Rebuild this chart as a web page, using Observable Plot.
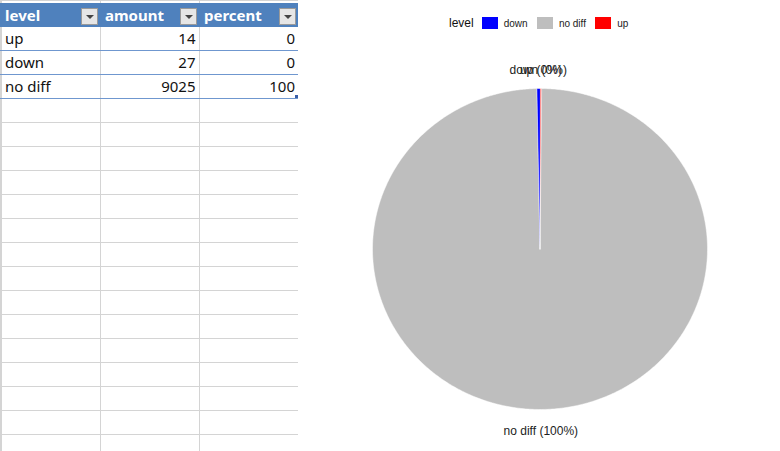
<!DOCTYPE html>
<html>
<head>
<meta charset="utf-8">
<script src="https://cdn.jsdelivr.net/npm/d3@7"></script>
<script src="https://cdn.jsdelivr.net/npm/@observablehq/plot@0.6"></script>
<style>
  html, body { margin: 0; padding: 0; background: #fff; }
  body { width: 780px; height: 451px; overflow: hidden; position: relative; font-family: "Noto Sans", sans-serif; }
  .abs { position: absolute; }
  .gh { position: absolute; height: 1px; background: #d4d4d4; }
  .gv { position: absolute; width: 1px; background: #d4d4d4; }
  .hdr { position: absolute; background: #4F81BD; }
  .htxt { position: absolute; color: #fff; font-weight: bold; font-size: 15px; line-height: 24px; white-space: nowrap; }
  .btn { position: absolute; width: 15px; height: 15px; background: #e6e6e6; border: 1px solid #9a9a9a; box-sizing: content-box; }
  .btn::after { content: ""; position: absolute; left: 4px; top: 6px; border-left: 4px solid transparent; border-right: 4px solid transparent; border-top: 4px solid #444; }
  .cell { position: absolute; font-size: 15px; color: #111; line-height: 24px; white-space: nowrap; }
  .bl { position: absolute; height: 1px; background: #6f97cf; }
  #legendRow { position: absolute; left: 449px; top: 17px; height: 12px; display: flex; align-items: center; font-family: "Liberation Sans", Arial, sans-serif; color: #111; }
  #legendRow .ttl { font-size: 12px; margin-right: 8px; }
  .lg-swatches { margin-bottom: 0 !important; font-size: 10px !important; font-family: "Liberation Sans", Arial, sans-serif !important; color: #222 !important; }
  .lg-swatches-wrap { min-height: 0 !important; flex-wrap: nowrap !important; }
  .lg-swatch { margin-right: 9.3px !important; }
  .lg-swatch > svg { margin-right: 6px !important; }
  #chart { position: absolute; left: 300px; top: 40px; }
</style>
</head>
<body>
<div id="sheet"></div>
<div id="legendRow"><span class="ttl">level</span></div>
<div id="chart"></div>
<script>
// ---- data ----
const levels = ["up", "down", "no diff"];
const amounts = [14, 27, 9025];
const percents = [0, 0, 100];
const headers = ["level", "amount", "percent"];
const colorDomain = ["down", "no diff", "up"];
const colorRange = ["#0000FF", "#BEBEBE", "#FF0000"];
const pieOrder = ["up", "no diff", "down"]; // clockwise from 12 o'clock

// ---- spreadsheet (left) ----
const sheet = document.getElementById("sheet");
const colX = [0, 100, 199, 298];
function add(cls, style, text) {
  const d = document.createElement("div");
  d.className = cls;
  Object.assign(d.style, style);
  if (text !== undefined) d.textContent = text;
  sheet.appendChild(d);
  return d;
}
// gray gridlines
add("gh", {left: "0px", top: "0px", width: "298px"});
for (let y = 122; y < 451; y += 24) add("gh", {left: "0px", top: y + "px", width: "298px"});
add("gv", {left: "0px", top: "0px", height: "451px", width: "2px"});
add("gv", {left: "100px", top: "0px", height: "451px"});
add("gv", {left: "199px", top: "0px", height: "451px"});
// header
add("hdr", {left: "0px", top: "3px", width: "298px", height: "24px"});
headers.forEach((h, i) => {
  add("htxt", {left: (colX[i] + 5) + "px", top: "3px"}, h);
  add("btn", {left: (colX[i + 1] - 19) + "px", top: "8px"});
});
// data rows
levels.forEach((l, r) => {
  const top = 27 + r * 24;
  add("cell", {left: "5px", top: (top - 1) + "px"}, l);
  add("cell", {right: (780 - colX[2] + 3.5) + "px", top: (top - 1) + "px"}, String(amounts[r]));
  add("cell", {right: (780 - colX[3] + 3) + "px", top: (top - 1) + "px"}, String(percents[r]));
  add("bl", {left: "0px", top: (top + 23) + "px", width: "298px"});
});
add("abs", {left: "295px", top: "95px", width: "3px", height: "3px", background: "#3a5fa8"});

// ---- pie chart (right) ----
const total = d3.sum(amounts);
let acc = 0;
const slices = pieOrder.map(l => {
  const i = levels.indexOf(l);
  const a0 = acc / total * 2 * Math.PI;
  acc += amounts[i];
  const a1 = acc / total * 2 * Math.PI;
  return {level: l, a0, a1, label: `${l} (${percents[i]}%)`};
});
const pts = slices.flatMap(s => {
  const n = Math.max(2, Math.ceil((s.a1 - s.a0) / (Math.PI / 360)));
  const arr = [{level: s.level, x: 0, y: 0}];
  for (let k = 0; k <= n; k++) {
    const a = s.a0 + (s.a1 - s.a0) * k / n;
    arr.push({level: s.level, x: Math.sin(a), y: Math.cos(a)});
  }
  return arr;
});

const chart = Plot.plot({
  width: 480,
  height: 411,
  marginLeft: 72,
  marginRight: 73,
  marginTop: 48,
  marginBottom: 42,
  x: {domain: [-1, 1], axis: null},
  y: {domain: [-1, 1], axis: null},
  color: {domain: colorDomain, range: colorRange},
  style: {fontFamily: "Liberation Sans, Arial, sans-serif", background: "white", overflow: "visible"},
  marks: [
    Plot.line(pts, {x: "x", y: "y", z: "level", fill: "level", stroke: "white", strokeWidth: 0.5, curve: "linear-closed"}),
    Plot.text(slices, {
      x: d => 1.125 * Math.sin((d.a0 + d.a1) / 2),
      y: d => 1.125 * Math.cos((d.a0 + d.a1) / 2),
      text: "label",
      fontSize: 12,
      fill: "#222",
      dy: 1.5
    })
  ]
});
document.getElementById("chart").appendChild(chart);

const legend = Plot.legend({
  color: {domain: colorDomain, range: colorRange},
  legend: "swatches",
  swatchWidth: 16,
  swatchHeight: 12,
  className: "lg"
});
document.getElementById("legendRow").appendChild(legend);
</script>
</body>
</html>
